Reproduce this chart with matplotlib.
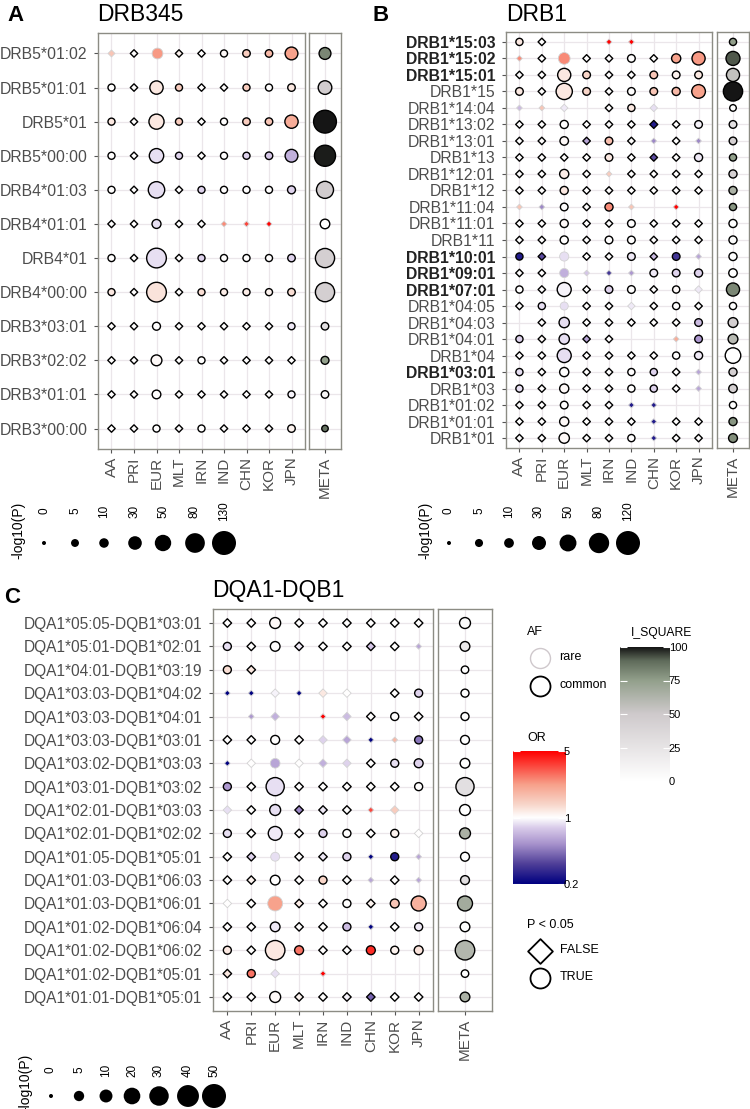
import numpy as np
import matplotlib
matplotlib.use("Agg")
import matplotlib.pyplot as plt
from matplotlib.colors import LinearSegmentedColormap, LogNorm, Normalize

plt.rcParams['font.family'] = ['Liberation Sans', 'DejaVu Sans']

N = np.nan
pops = ["AA", "PRI", "EUR", "MLT", "IRN", "IND", "CHN", "KOR", "JPN"]

# ---------------- panel A : DRB345 ----------------
drb345_alleles = ["DRB5*01:02", "DRB5*01:01", "DRB5*01", "DRB5*00:00", "DRB4*01:03",
                  "DRB4*01:01", "DRB4*01", "DRB4*00:00", "DRB3*03:01", "DRB3*02:02",
                  "DRB3*01:01", "DRB3*00:00"]
drb345_logp = [
    [0.3, 0.5, 15, 0.5, 0.5, 3, 4, 4, 25],
    [3, 0.5, 28, 3, 0.5, 0.5, 3, 3, 4],
    [3, 0.5, 40, 3, 0.5, 3, 4, 4, 28],
    [3, 0.5, 35, 3, 0.5, 3, 3, 4, 25],
    [3, 0.5, 50, 0.5, 3, 3, 3, 3, 5],
    [0.5, 0.5, 8, 0.5, 0.5, 0, 0, 0, N],
    [3, 0.5, 80, 0.5, 3, 3, 3, 3, 4],
    [3, 0.5, 80, 0.5, 3, 3, 3, 3, 4],
    [0.5, 0.5, 5, 0.5, 0.5, 0.5, 0.5, 0.5, 3],
    [0.5, 0.5, 15, 0.5, 3, 0.5, 0.5, 0.5, 0.5],
    [0.5, 0.5, 7, 0.5, 0.5, 0.5, 0.5, 0.5, 3],
    [0.5, 0.5, 3, 0.5, 3, 0.5, 0.5, 0.5, 4],
]
drb345_or = [
    [1.6, 1.0, 2.3, 1.1, 1.0, 1.05, 1.5, 1.8, 2.2],
    [1.0, 1.0, 1.2, 1.5, 1.0, 1.0, 1.5, 1.0, 1.2],
    [1.2, 1.0, 1.2, 1.5, 1.0, 1.0, 1.5, 1.6, 2.0],
    [1.0, 1.0, 0.85, 0.8, 1.0, 1.0, 0.8, 0.75, 0.65],
    [1.0, 1.0, 0.85, 1.0, 0.8, 1.0, 1.0, 1.0, 0.8],
    [1.0, 1.0, 0.85, 1.0, 1.0, 2.5, 3.5, 5.0, N],
    [1.0, 1.0, 0.85, 1.0, 0.8, 1.0, 1.0, 1.0, 0.8],
    [1.2, 1.0, 1.25, 1.0, 1.3, 1.15, 1.15, 1.1, 1.3],
    [1.0, 1.0, 1.0, 1.0, 1.0, 1.0, 1.0, 1.0, 0.9],
    [1.0, 1.0, 1.05, 1.0, 1.0, 1.0, 1.0, 1.0, 1.0],
    [1.0, 1.0, 1.0, 1.0, 1.0, 1.0, 1.0, 1.0, 0.95],
    [1.0, 1.0, 1.0, 1.0, 1.0, 1.0, 1.0, 1.0, 1.1],
]
drb345_rare = [
    [1, 0, 1, 0, 0, 0, 0, 0, 0],
    [0] * 9, [0] * 9, [0] * 9, [0] * 9,
    [0, 0, 0, 0, 0, 1, 1, 1, 0],
    [0] * 9, [0] * 9, [0] * 9, [0] * 9, [0] * 9, [0] * 9,
]
drb345_meta_logp = [20, 30, 115, 95, 55, 10, 75, 75, 4, 5, 4, 2]
drb345_meta_i2 = [82, 48, 100, 99, 48, 0, 45, 45, 30, 75, 10, 88]
drb345_breaks = [0, 5, 10, 30, 50, 80, 130]

# ---------------- panel B : DRB1 ----------------
drb1_alleles = ["DRB1*15:03", "DRB1*15:02", "DRB1*15:01", "DRB1*15", "DRB1*14:04",
                "DRB1*13:02", "DRB1*13:01", "DRB1*13", "DRB1*12:01", "DRB1*12",
                "DRB1*11:04", "DRB1*11:01", "DRB1*11", "DRB1*10:01", "DRB1*09:01",
                "DRB1*07:01", "DRB1*04:05", "DRB1*04:03", "DRB1*04:01", "DRB1*04",
                "DRB1*03:01", "DRB1*03", "DRB1*01:02", "DRB1*01:01", "DRB1*01"]
drb1_bold = ["DRB1*15:03", "DRB1*15:02", "DRB1*15:01", "DRB1*10:01", "DRB1*09:01",
             "DRB1*07:01", "DRB1*03:01"]
drb1_logp = [
    [3, 0.5, N, N, 0, 0, N, N, N],
    [0, 0.5, 18, 0.5, 0.5, 4, 0.5, 8, 25],
    [0.5, 0.5, 25, 4, 0.5, 0.5, 4, 4, 4],
    [4, 0.5, 45, 4, 0.5, 4, 4, 5, 28],
    [0, 0, 0.5, N, 0.5, 3, 0.5, N, N],
    [0.5, 0.5, 5, 0.5, 0.5, 0.5, 0.8, 0.5, 4],
    [0.5, 0.5, 6, 0.5, 4, 0.5, 0, 0.5, 0],
    [0.5, 0.5, 0.5, 0.5, 4, 0.5, 0.5, 0.5, 5],
    [0.5, 0.5, 8, 0.5, 0, 0.5, 0.5, 0.5, 0.5],
    [0.5, 0.5, 5, 0.5, 0.5, 0.5, 0.5, 0.5, 0.5],
    [0, 0, 4, 0.5, 5, 0, N, 0, N],
    [0.5, 0.5, 5, 0.5, 0.5, 4, 0.5, 0.5, 0.5],
    [0.5, 0.5, 5, 0.5, 4, 4, 0.5, 0.5, 0.5],
    [3, 0.5, 8, 0.5, 0.5, 4, 0.5, 4, 0],
    [0.5, 0.5, 8, 0, 0, 0, 4, 4, 5],
    [3, 0.5, 30, 0.5, 4, 4, 0.5, 3, 0.5],
    [0.5, 3, 5, 0.5, 0.5, 0.5, 0.5, 3, 0.5],
    [N, 0.5, 12, 0.5, 0.5, 0.5, 0.5, 0.5, 4],
    [3, 0.5, 12, 0.5, 0.5, N, N, 0, 4],
    [0.5, 0.5, 30, 0.5, 0.5, 0.5, 0.5, 3, 5],
    [3, 0.5, 8, 0.5, 0.5, 3, 3, 0.5, 0],
    [3, 0.5, 8, 0.5, 0.5, 3, 3, 0.5, 0],
    [0.5, 0.5, 4, 0.5, 0.5, 0, 0, N, N],
    [0.5, 0.5, 8, 0.5, 0.5, 0.5, 0, 0.5, 0.5],
    [0.5, 0.5, 12, 0.5, 0.5, 3, 0, 0.5, 0.5],
]
drb1_or = [
    [1.2, 1.0, N, N, 5.0, 5.0, N, N, N],
    [2.5, 1.0, 2.5, 1.0, 1.0, 1.0, 1.0, 2.2, 2.3],
    [1.0, 1.0, 1.2, 1.4, 1.0, 1.0, 1.6, 1.1, 1.2],
    [1.2, 1.0, 1.2, 1.4, 1.0, 1.0, 1.6, 1.8, 2.2],
    [0.7, 1.6, 0.9, N, 1.0, 1.2, 0.85, N, N],
    [1.0, 1.0, 1.0, 1.0, 1.0, 1.0, 0.25, 1.0, 0.95],
    [1.0, 1.0, 1.05, 0.6, 1.7, 1.0, 0.5, 1.0, 0.5],
    [1.0, 1.0, 1.0, 1.0, 1.2, 1.0, 0.35, 1.0, 0.9],
    [1.0, 1.0, 1.15, 1.0, 1.5, 1.0, 1.0, 1.0, 1.0],
    [1.0, 1.0, 1.2, 1.0, 1.0, 1.0, 1.0, 1.0, 1.0],
    [1.6, 0.5, 1.0, 1.0, 2.5, 1.6, N, 5.0, N],
    [1.0, 1.0, 1.05, 1.0, 1.0, 1.0, 1.0, 1.0, 1.0],
    [1.0, 1.0, 1.0, 1.0, 1.0, 1.0, 1.0, 1.0, 1.0],
    [0.25, 0.35, 0.85, 1.0, 1.0, 0.9, 0.7, 0.3, 0.6],
    [1.0, 1.0, 0.65, 0.75, 0.3, 0.55, 0.9, 0.8, 0.8],
    [1.0, 1.0, 0.95, 1.0, 0.8, 1.0, 1.0, 1.05, 0.9],
    [1.0, 0.85, 0.85, 1.0, 1.0, 0.9, 1.0, 1.0, 1.0],
    [N, 1.0, 0.85, 1.0, 1.0, 1.0, 1.0, 1.0, 0.7],
    [0.8, 1.05, 0.85, 0.6, 1.0, N, N, 2.0, 0.55],
    [1.0, 1.0, 0.85, 1.0, 1.0, 1.0, 1.0, 1.0, 0.9],
    [0.85, 1.0, 1.0, 1.0, 1.0, 1.0, 0.8, 1.0, 0.6],
    [0.85, 1.0, 1.05, 1.0, 1.0, 1.0, 0.8, 1.0, 0.6],
    [1.0, 1.0, 1.0, 1.0, 1.0, 0.25, 0.25, N, N],
    [1.0, 1.0, 1.05, 1.0, 1.0, 1.0, 0.25, 1.0, 1.0],
    [1.0, 1.0, 1.05, 1.0, 1.0, 1.0, 0.25, 1.0, 1.0],
]
drb1_rare = [
    [0, 0, 0, 0, 1, 1, 0, 0, 0],
    [1, 0, 1, 0, 0, 0, 0, 0, 0],
    [0] * 9, [0] * 9,
    [1, 1, 1, 0, 0, 0, 1, 0, 0],
    [0] * 9,
    [0, 0, 0, 0, 0, 0, 1, 0, 1],
    [0] * 9,
    [0, 0, 0, 0, 1, 0, 0, 0, 0],
    [0] * 9,
    [1, 1, 0, 0, 0, 1, 0, 1, 0],
    [0] * 9, [0] * 9,
    [0, 0, 1, 0, 0, 0, 0, 0, 1],
    [0, 0, 1, 1, 1, 1, 0, 0, 0],
    [0, 0, 0, 0, 0, 0, 0, 0, 1],
    [0, 0, 1, 0, 0, 1, 0, 0, 0],
    [0] * 9,
    [0, 0, 0, 0, 0, 0, 0, 1, 0],
    [0] * 9,
    [0, 0, 0, 0, 0, 0, 0, 0, 1],
    [0, 0, 0, 0, 0, 0, 0, 0, 1],
    [0, 0, 0, 0, 0, 1, 1, 0, 0],
    [0, 0, 0, 0, 0, 0, 1, 0, 0],
    [0, 0, 0, 0, 0, 0, 1, 0, 0],
]
drb1_meta_logp = [3, 30, 25, 70, 2, 4, 4, 3, 5, 5, 3, 5, 5, 5, 6, 25, 3, 10, 10, 40,
                  5, 6, 3, 5, 7]
drb1_meta_i2 = [75, 92, 55, 100, 0, 30, 45, 75, 45, 65, 78, 0, 5, 0, 0, 82, 0, 45, 60, 0,
                45, 45, 0, 78, 80]
drb1_breaks = [0, 5, 10, 30, 50, 80, 120]

# ---------------- panel C : DQA1-DQB1 ----------------
dq_haplos = ["DQA1*05:05-DQB1*03:01", "DQA1*05:01-DQB1*02:01", "DQA1*04:01-DQB1*03:19",
             "DQA1*03:03-DQB1*04:02", "DQA1*03:03-DQB1*04:01", "DQA1*03:03-DQB1*03:01",
             "DQA1*03:02-DQB1*03:03", "DQA1*03:01-DQB1*03:02", "DQA1*02:01-DQB1*03:03",
             "DQA1*02:01-DQB1*02:02", "DQA1*01:05-DQB1*05:01", "DQA1*01:03-DQB1*06:03",
             "DQA1*01:03-DQB1*06:01", "DQA1*01:02-DQB1*06:04", "DQA1*01:02-DQB1*06:02",
             "DQA1*01:02-DQB1*05:01", "DQA1*01:01-DQB1*05:01"]
dq_logp = [
    [0.5, 0.5, 6, 0.5, 0.5, 0.5, 0.5, 0.5, 0.5],
    [2, 0.5, 4, 0.5, 0.5, 0.5, 0.5, 0.5, 0],
    [2, 0.5, N, N, N, N, N, N, N],
    [0, 0, 0.5, 0, 0.5, 0.5, N, 0.5, 2],
    [N, 0, 0.5, N, 0, 0.5, 0.5, 2, 0.5],
    [0.5, 0.5, 3, 0.5, 0.5, 0.5, 0, 0, 2],
    [0, 0.5, 4, 0.5, 0.5, 0.5, 0.5, 2, 3],
    [2, 0.5, 25, 0.5, 0.5, 0.5, 0.5, 0.5, 2],
    [0.5, 0.5, 6, 0.5, 0.5, 0.5, 0, 0.5, N],
    [2, 0.5, 12, 0.5, 2, 2, 0.5, 2, 0.5],
    [0.5, 0.5, 3, 0.5, 0.5, 2, 0, 2, 0],
    [0.5, 0.5, 4, 0.5, 2, 0.5, 0, 0.5, 0],
    [0.5, 0.5, 15, 0.5, 0.5, 2, 0.5, 3, 15],
    [0.5, 0.5, 4, 0.5, 0.5, 2, 0, 0.5, 2],
    [2, 0.5, 30, 3, 0.5, 0.5, 3, 2, 3],
    [0.5, 2, 0.5, N, 0, N, N, N, N],
    [0.5, 0.5, 6, 0.5, 0.5, 0.5, 0.5, 0.5, 0.5],
]
dq_or = [
    [1.0, 1.0, 1.05, 1.0, 1.0, 1.0, 1.0, 1.0, 1.0],
    [0.85, 1.0, 1.0, 0.9, 1.0, 1.0, 0.75, 1.0, 0.6],
    [1.3, 1.2, N, N, N, N, N, N, N],
    [0.2, 0.2, 0.95, 0.2, 1.2, 1.0, N, 1.0, 0.8],
    [N, 0.55, 0.65, N, 5.0, 0.7, 1.0, 1.0, 1.0],
    [1.0, 1.0, 1.0, 1.0, 0.8, 0.6, 0.2, 1.8, 0.45],
    [0.2, 1.0, 0.6, 1.0, 0.65, 0.8, 1.0, 0.85, 0.8],
    [0.55, 1.0, 0.85, 1.0, 1.0, 1.0, 1.0, 1.0, 1.0],
    [0.85, 1.0, 0.85, 0.5, 0.9, 1.0, 3.5, 1.5, N],
    [0.85, 1.0, 0.9, 1.0, 0.8, 1.0, 1.0, 1.1, 1.0],
    [1.0, 0.8, 0.85, 1.0, 0.9, 0.8, 0.2, 0.25, 0.6],
    [1.0, 1.1, 1.0, 1.0, 1.4, 1.0, 0.6, 1.0, 0.6],
    [1.0, 1.0, 2.2, 1.15, 1.0, 1.0, 1.1, 1.6, 1.9],
    [1.0, 1.0, 0.9, 1.0, 1.0, 0.7, 0.2, 1.0, 0.9],
    [1.2, 1.0, 1.2, 2.8, 1.0, 1.0, 4.0, 1.1, 1.25],
    [1.2, 2.8, 0.85, N, 5.0, N, N, N, N],
    [1.0, 1.0, 1.05, 1.1, 1.0, 0.95, 0.4, 1.0, 1.0],
]
dq_rare = [
    [0] * 9,
    [0, 0, 0, 0, 0, 0, 0, 0, 1],
    [0] * 9,
    [1, 1, 1, 1, 1, 1, 0, 0, 0],
    [0, 1, 1, 0, 1, 1, 0, 0, 0],
    [0, 0, 0, 0, 1, 1, 1, 1, 0],
    [1, 1, 1, 1, 1, 1, 0, 0, 0],
    [0] * 9,
    [1, 0, 0, 0, 0, 0, 1, 1, 0],
    [0, 0, 0, 0, 0, 0, 0, 0, 1],
    [0, 0, 1, 0, 0, 0, 1, 0, 1],
    [0, 0, 0, 0, 0, 0, 1, 0, 1],
    [1, 0, 1, 0, 0, 0, 0, 0, 0],
    [0, 0, 0, 0, 0, 0, 1, 0, 0],
    [0] * 9,
    [0, 0, 1, 0, 1, 0, 0, 0, 0],
    [0] * 9,
]
dq_meta_logp = [6, 4, 1.5, 2, 2, 3, 4, 25, 6, 6, 3, 3, 15, 4, 30, 1.5, 4]
dq_meta_i2 = [5, 20, 0, 0, 0, 0, 0, 30, 0, 65, 0, 30, 68, 0, 62, 0, 65]
dq_breaks = [0, 5, 10, 20, 30, 40, 50]

# ---------------- styling ----------------
W, H = 750, 1109
TXT = '#4d4d4d'
GRID = '#ebe6ea'
BORDER = '#8c8c84'
RARE_EDGE = '#d2d2d2'

or_cmap = LinearSegmentedColormap.from_list(
    "or", [(0, '#000080'), (0.15, '#4f3f98'), (0.3, '#a792cc'), (0.42, '#d8cae9'),
           (0.5, '#ffffff'), (0.6, '#f8d6ca'), (0.75, '#f7a08a'), (1, '#ff0000')])
or_norm = LogNorm(0.2, 5)
i2_cmap = LinearSegmentedColormap.from_list(
    "i2", [(0, '#ffffff'), (0.5, '#cfcacc'), (0.75, '#93a08c'), (0.9, '#5f6b5a'), (1, '#151515')])
i2_norm = Normalize(0, 100)

fig = plt.figure(figsize=(W / 100, H / 100), dpi=100)


def px_axes(x0, y0, x1, y1):
    return fig.add_axes([x0 / W, 1 - y1 / H, (x1 - x0) / W, (y1 - y0) / H])


def msize(v, vmax):
    d = 4 + 20 * np.sqrt(np.clip(v, 0, None) / vmax)
    return (d * 0.72) ** 2


def style_axes(ax, nrow, xlabels):
    ax.set_xlim(0.4, len(xlabels) + 0.6)
    ax.set_ylim(0.4, nrow + 0.6)
    ax.set_xticks(range(1, len(xlabels) + 1))
    ax.set_xticklabels(xlabels, rotation=90, fontsize=11, color=TXT)
    ax.set_yticks(range(1, nrow + 1))
    ax.grid(True, color=GRID, lw=0.9)
    ax.set_axisbelow(True)
    for s in ax.spines.values():
        s.set_color(BORDER)
        s.set_linewidth(1.0)
    ax.tick_params(length=3, width=0.8, color='#555555')
    ax.tick_params(axis='x', pad=2.5)
    ax.tick_params(axis='y', pad=4.5)


def draw_panel(ax, mx, labels, logp, orv, rare, meta_logp, meta_i2, vmax, bold=(), fs=11.3):
    logp = np.array(logp, float)
    orv = np.array(orv, float)
    rare = np.array(rare, bool)
    nrow = len(labels)
    yy, xx = np.mgrid[0:nrow, 0:len(pops)]
    xs = xx + 1
    ys = nrow - yy
    ok = ~np.isnan(logp)
    sig = np.where(ok, logp, 0) >= 1.3
    for marker, sel in (('D', ~sig), ('o', sig)):
        for r in (True, False):
            m = ok & sel & (rare == r)
            if not m.any():
                continue
            ax.scatter(xs[m], ys[m], s=msize(logp[m], vmax), marker=marker,
                       c=or_cmap(or_norm(orv[m])),
                       edgecolors=RARE_EDGE if r else 'black',
                       linewidths=0.6 if r else 1.0, zorder=3)
    style_axes(ax, nrow, pops)
    ax.set_yticklabels(labels[::-1], fontsize=fs, color=TXT)
    for t in ax.get_yticklabels():
        if t.get_text() in bold:
            t.set_fontweight('bold')
            t.set_color('#222222')

    my = nrow - np.arange(nrow)
    mx.scatter(np.ones(nrow), my, s=msize(np.array(meta_logp, float), vmax), marker='o',
               c=i2_cmap(i2_norm(np.array(meta_i2, float))), edgecolors='black',
               linewidths=1.0, zorder=3)
    style_axes(mx, nrow, ["META"])
    mx.set_yticklabels([])
    mx.tick_params(axis='y', length=0)


axA = px_axes(98, 33, 305, 449)
axAm = px_axes(309, 33, 341, 449)
draw_panel(axA, axAm, drb345_alleles, drb345_logp, drb345_or, drb345_rare,
           drb345_meta_logp, drb345_meta_i2, 130)

axB = px_axes(506, 32, 712, 448)
axBm = px_axes(717, 32, 749, 448)
draw_panel(axB, axBm, drb1_alleles, drb1_logp, drb1_or, drb1_rare,
           drb1_meta_logp, drb1_meta_i2, 120, bold=drb1_bold, fs=11.3)

axC = px_axes(213, 609, 433, 1011)
axCm = px_axes(438, 609, 492, 1011)
draw_panel(axC, axCm, dq_haplos, dq_logp, dq_or, dq_rare,
           dq_meta_logp, dq_meta_i2, 50, fs=11.2)

# ---------------- overlay for titles & legends ----------------
lg = fig.add_axes([0, 0, 1, 1], zorder=-1)
lg.set_xlim(0, W)
lg.set_ylim(H, 0)
lg.axis('off')

for letter, lx, ly, title, tx, ty in (("A", 7, 21, "DRB345", 97, 21),
                                      ("B", 372, 21, "DRB1", 506, 21),
                                      ("C", 4, 603, "DQA1-DQB1", 212, 597)):
    lg.text(lx, ly, letter, fontsize=16, fontweight='bold', va='baseline', ha='left')
    lg.text(tx, ty, title, fontsize=16.5, va='baseline', ha='left')


def size_legend(x_title, y_title, xs, y_lab, y_dot, breaks, vmax):
    lg.text(x_title, y_title, "-log10(P)", rotation=90, fontsize=10, ha='center', va='center')
    for x, b in zip(xs, breaks):
        lg.text(x, y_lab, str(b), rotation=90, fontsize=8.5, ha='center', va='center')
    lg.scatter(xs, [y_dot] * len(xs), s=msize(np.array(breaks, float), vmax), c='black',
               linewidths=0, zorder=3)


size_legend(18, 530, [44, 75, 104, 135, 163, 195, 224], 511, 543, drb345_breaks, 130)
size_legend(425, 530, [449, 479, 509, 539, 568, 599, 628], 511, 543, drb1_breaks, 120)
size_legend(25, 1082, [51, 79, 106, 132, 159, 188, 214], 1070, 1096, dq_breaks, 50)

# AF legend
lg.text(527, 632, "AF", fontsize=9, ha='left', va='center')
lg.scatter([540], [658], s=(20 * 0.72) ** 2, facecolors='white', edgecolors='#cfc8cc', linewidths=1.0)
lg.scatter([540], [686], s=(20 * 0.72) ** 2, facecolors='white', edgecolors='black', linewidths=1.3)
lg.text(559, 657, "rare", fontsize=9, ha='left', va='center')
lg.text(559, 685, "common", fontsize=9, ha='left', va='center')

# P < 0.05 legend
lg.text(527, 925, "P < 0.05", fontsize=9, ha='left', va='center')
lg.scatter([540], [951], s=(17.5 * 0.72) ** 2, marker='D', facecolors='white', edgecolors='black', linewidths=1.3)
lg.scatter([540], [978], s=(20 * 0.72) ** 2, facecolors='white', edgecolors='black', linewidths=1.3)
lg.text(560, 950, "FALSE", fontsize=9, ha='left', va='center')
lg.text(560, 977, "TRUE", fontsize=9, ha='left', va='center')

# OR colour bar
lg.text(527, 738, "OR", fontsize=9, ha='left', va='center')
cbo = px_axes(513, 751, 565, 884)
grad = np.linspace(np.log(0.2), np.log(5), 256).reshape(-1, 1)
cbo.imshow(np.exp(grad), aspect='auto', origin='lower', cmap=or_cmap, norm=or_norm,
           extent=[0, 1, np.log(0.2), np.log(5)])
cbo.set_xticks([])
cbo.set_yticks(np.log([0.2, 1, 5]))
cbo.set_yticklabels(["0.2", "1", "5"], fontsize=8)
cbo.tick_params(axis='y', direction='in', color='white', length=5, left=True, right=True,
                labelleft=False, labelright=True, pad=-1)
for s in cbo.spines.values():
    s.set_visible(False)

# I_SQUARE colour bar
lg.text(662, 633, "I_SQUARE", fontsize=8.7, ha='center', va='center')
cbi = px_axes(620, 647, 670, 781)
grad = np.linspace(0, 100, 256).reshape(-1, 1)
cbi.imshow(grad, aspect='auto', origin='lower', cmap=i2_cmap, norm=i2_norm, extent=[0, 1, 0, 100])
cbi.set_xticks([])
cbi.set_yticks([0, 25, 50, 75, 100])
cbi.set_yticklabels(["0", "25", "50", "75", "100"], fontsize=8)
cbi.tick_params(axis='y', direction='in', color='white', length=5, left=True, right=True,
                labelleft=False, labelright=True, pad=-1)
for s in cbi.spines.values():
    s.set_visible(False)

fig.savefig("out.png", dpi=100)
